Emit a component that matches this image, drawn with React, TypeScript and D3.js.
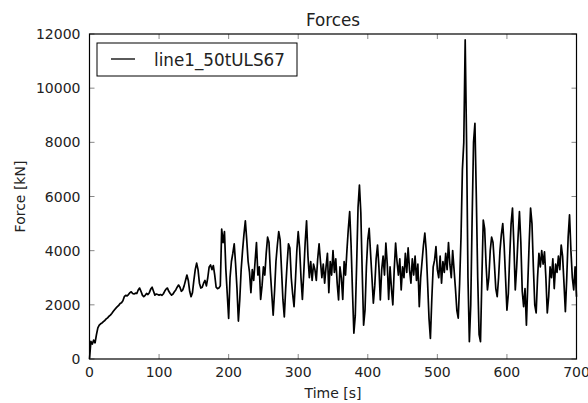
import { useEffect, useRef } from "react";
import * as d3 from "d3";

// force samples every 2 s, 0..700 s
const sampleStep = 2;
const forces: number[] = [
  0, 650, 550, 700, 600, 900, 1150, 1250, 1300, 1330,
  1380, 1420, 1480, 1520, 1580, 1620, 1680, 1750, 1820, 1880,
  1930, 1980, 2050, 2080, 2150, 2300, 2350, 2330, 2380, 2450,
  2480, 2420, 2400, 2430, 2420, 2550, 2620, 2500, 2360, 2300,
  2350, 2420, 2380, 2450, 2580, 2650, 2500, 2360, 2400, 2380,
  2360, 2380, 2350, 2400, 2500, 2580, 2620, 2500, 2420, 2360,
  2400, 2480, 2550, 2650, 2730, 2650, 2500, 2550, 2700, 2900,
  3100, 2900, 2500, 2300, 2450, 2900, 3300, 3540, 3300, 2800,
  2620, 2650, 2800, 2900, 2700, 3000, 3400, 3470, 3300, 3450,
  3100, 2650, 2600, 2620, 2700, 4800, 4300, 4700, 3300, 2400,
  1500, 3000, 3600, 3900, 4250, 3500, 2600, 1400, 2200, 3300,
  4000, 4600, 5100, 4400, 3600, 3200, 2450, 3300, 2900, 3600,
  4300, 3100, 3400, 2200, 2700, 3400, 3100, 3900, 4500, 4300,
  3200, 2400, 1620, 2500, 3600, 4200, 4700, 4400, 3300, 2200,
  1550, 2600, 3500, 4250, 4100, 3000, 2400, 1930, 2900, 4000,
  4700, 4100, 3000, 2200, 3200, 4300, 5100, 3800, 3000, 3600,
  2900, 3500, 3300, 2900, 3700, 4250, 3600, 3000, 3500, 2800,
  3400, 3900, 2450, 3600, 3100, 4000, 3200, 3700, 2800, 2180,
  3400, 3000, 2200, 3600, 3100, 4000, 4800, 5440, 4200, 2500,
  950, 1600, 3500, 5600, 6420, 5400, 3200, 1250, 1800, 3400,
  4400, 4820, 3900, 3000, 2060, 2700, 3700, 4210, 3400, 2180,
  3300, 3800, 3100, 4280, 3500, 2200, 3400, 2600, 2000, 3300,
  4280, 3600, 3100, 3700, 2550, 3400, 3000, 3900, 3200, 4100,
  3300, 2800, 3700, 3100, 3800, 2900, 3500, 1930, 3000, 3600,
  4200, 4650, 4000, 2800, 1500, 760, 2200, 3400, 3650, 4150,
  3300, 3000, 3800, 2800, 3600, 3200, 3900, 3300, 4300, 3500,
  3000, 4000, 3300, 2600, 1800, 1510, 2800, 4500, 7000, 8000,
  11780, 8000, 3000, 640, 2000, 5200, 8000, 8700, 6000, 3000,
  900, 640, 3000, 5130, 4800, 3500, 2550, 3000, 4000, 4500,
  4300, 3500, 2600, 2300, 3000, 4000, 4600, 5000, 4200, 3000,
  1800, 2400, 3800, 5000, 5570, 4200, 2550, 3400, 4500, 5440,
  4300, 2500, 1930, 2600, 1250, 2800, 4300, 5570, 5000, 3400,
  2000, 1700, 3000, 3900, 3400, 4000, 3500, 3960, 3000, 1700,
  2300, 3400, 3000, 3700, 2600, 3500, 3200, 3800, 3300, 4210,
  3800, 2800, 1750, 3000, 4500, 5320, 4000, 3000, 2550, 3400,
  2300,
];

const xTicks = [0, 100, 200, 300, 400, 500, 600, 700];
const yTicks = [0, 2000, 4000, 6000, 8000, 10000, 12000];
const seriesName = "line1_50tULS67";

const App = () => {
  const svgRef = useRef<SVGSVGElement>(null);

  useEffect(() => {
    const svg = d3.select(svgRef.current);
    svg.selectAll("*").remove();

    const width = 588;
    const height = 403;
    const plot = { left: 89.5, right: 576.5, top: 34, bottom: 359 };
    const font = "DejaVu Sans, sans-serif";
    const textColor = "#222";

    const x = d3.scaleLinear().domain([0, 700]).range([plot.left, plot.right]);
    const y = d3.scaleLinear().domain([0, 12000]).range([plot.bottom, plot.top]);

    svg.append("rect").attr("width", width).attr("height", height).attr("fill", "#fff");

    // data line
    const line = d3
      .line<number>()
      .x((_, i) => x(i * sampleStep))
      .y((d) => y(d));

    svg
      .append("path")
      .datum(forces)
      .attr("d", line)
      .attr("fill", "none")
      .attr("stroke", "#000")
      .attr("stroke-width", 1.7)
      .attr("stroke-linejoin", "round");

    // ticks, inward on all four sides
    const tickLen = 5;
    const ticks = svg.append("g").attr("stroke", "#888").attr("stroke-width", 1);
    xTicks.forEach((t) => {
      ticks.append("line").attr("x1", x(t)).attr("x2", x(t)).attr("y1", plot.bottom).attr("y2", plot.bottom - tickLen);
      ticks.append("line").attr("x1", x(t)).attr("x2", x(t)).attr("y1", plot.top).attr("y2", plot.top + tickLen);
    });
    yTicks.forEach((t) => {
      ticks.append("line").attr("x1", plot.left).attr("x2", plot.left + tickLen).attr("y1", y(t)).attr("y2", y(t));
      ticks.append("line").attr("x1", plot.right).attr("x2", plot.right - tickLen).attr("y1", y(t)).attr("y2", y(t));
    });

    // frame
    svg
      .append("rect")
      .attr("x", plot.left)
      .attr("y", plot.top)
      .attr("width", plot.right - plot.left)
      .attr("height", plot.bottom - plot.top)
      .attr("fill", "none")
      .attr("stroke", "#000")
      .attr("stroke-width", 1.2);

    // tick labels
    svg
      .append("g")
      .selectAll("text")
      .data(xTicks)
      .enter()
      .append("text")
      .attr("x", (d) => x(d))
      .attr("y", plot.bottom + 18)
      .attr("text-anchor", "middle")
      .attr("font-family", font)
      .attr("font-size", 14)
      .attr("fill", textColor)
      .text((d) => d);

    svg
      .append("g")
      .selectAll("text")
      .data(yTicks)
      .enter()
      .append("text")
      .attr("x", plot.left - 9)
      .attr("y", (d) => y(d) + 5)
      .attr("text-anchor", "end")
      .attr("font-family", font)
      .attr("font-size", 14)
      .attr("fill", textColor)
      .text((d) => d);

    // axis titles
    svg
      .append("text")
      .attr("x", (plot.left + plot.right) / 2)
      .attr("y", 398)
      .attr("text-anchor", "middle")
      .attr("font-family", font)
      .attr("font-size", 14)
      .attr("fill", textColor)
      .text("Time [s]");

    svg
      .append("text")
      .attr("transform", `translate(25,${(plot.top + plot.bottom) / 2}) rotate(-90)`)
      .attr("text-anchor", "middle")
      .attr("font-family", font)
      .attr("font-size", 14)
      .attr("fill", textColor)
      .text("Force [kN]");

    svg
      .append("text")
      .attr("x", (plot.left + plot.right) / 2)
      .attr("y", 26)
      .attr("text-anchor", "middle")
      .attr("font-family", font)
      .attr("font-size", 16.8)
      .attr("fill", textColor)
      .text("Forces");

    // legend
    const legend = svg.append("g");
    legend
      .append("rect")
      .attr("x", 97)
      .attr("y", 43)
      .attr("width", 200)
      .attr("height", 33)
      .attr("fill", "#fff")
      .attr("stroke", "#000")
      .attr("stroke-width", 1);
    legend
      .append("line")
      .attr("x1", 111)
      .attr("x2", 135)
      .attr("y1", 59)
      .attr("y2", 59)
      .attr("stroke", "#000")
      .attr("stroke-width", 1.3);
    legend
      .append("text")
      .attr("x", 154)
      .attr("y", 65.5)
      .attr("font-family", font)
      .attr("font-size", 16.8)
      .attr("fill", textColor)
      .text(seriesName);
  }, []);

  return (
    <svg
      ref={svgRef}
      width={588}
      height={403}
      style={{ position: "absolute", left: 0, top: 0, display: "block" }}
    ></svg>
  );
};

export default App;
